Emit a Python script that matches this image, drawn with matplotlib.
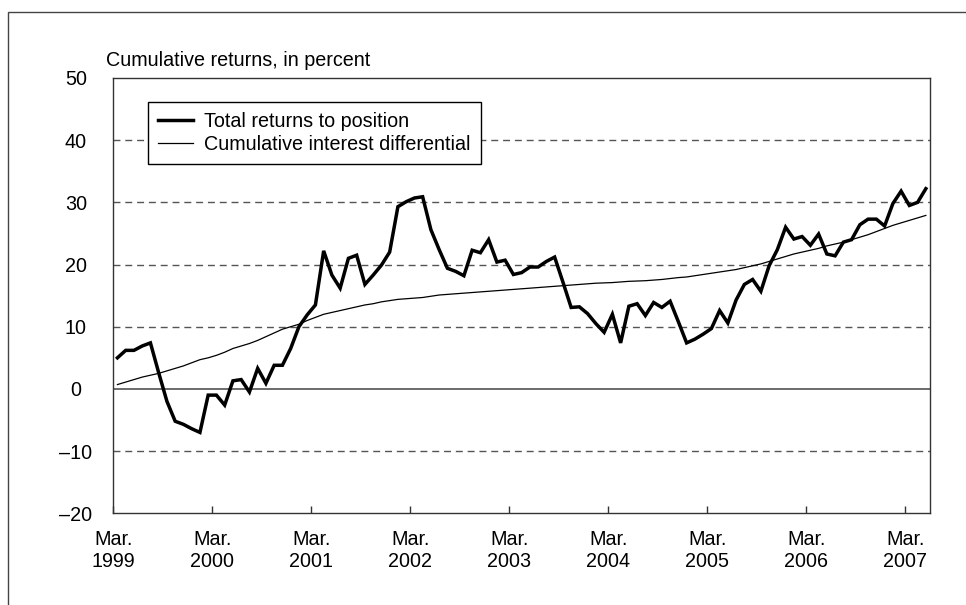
import matplotlib
matplotlib.use("Agg")
import matplotlib.pyplot as plt
from matplotlib.patches import Rectangle
import numpy as np

plt.rcParams["font.family"] = ["Liberation Sans", "DejaVu Sans"]

# monthly observations, Mar. 1999 .. May 2007
total_returns = [
    5.0, 6.2, 6.2, 6.9, 7.4, 2.6, -2.0, -5.2, -5.7, -6.4,
    -7.0, -1.0, -1.0, -2.6, 1.3, 1.5, -0.5, 3.3, 0.9, 3.8,
    3.8, 6.5, 10.0, 11.9, 13.5, 22.2, 18.3, 16.2, 21.0, 21.5,
    16.8, 18.3, 19.9, 22.0, 29.3, 30.1, 30.7, 30.9, 25.6, 22.4,
    19.4, 18.9, 18.2, 22.3, 21.9, 24.0, 20.4, 20.7, 18.4, 18.7,
    19.6, 19.6, 20.5, 21.2, 17.2, 13.1, 13.2, 12.1, 10.5, 9.1,
    12.0, 7.4, 13.3, 13.7, 11.8, 13.9, 13.1, 14.1, 10.8, 7.4,
    8.0, 8.8, 9.7, 12.6, 10.6, 14.3, 16.8, 17.6, 15.7, 19.8,
    22.4, 26.0, 24.1, 24.5, 23.1, 24.9, 21.7, 21.4, 23.6, 24.0,
    26.4, 27.3, 27.3, 26.2, 29.8, 31.8, 29.5, 30.0, 32.2,
]
interest_diff = [
    0.7, 1.1, 1.5, 1.9, 2.2, 2.5, 2.9, 3.3, 3.7, 4.2,
    4.7, 5.0, 5.4, 5.9, 6.5, 6.9, 7.3, 7.8, 8.4, 9.0,
    9.6, 10.0, 10.4, 11.0, 11.5, 12.0, 12.3, 12.6, 12.9, 13.2,
    13.5, 13.7, 14.0, 14.2, 14.4, 14.5, 14.6, 14.7, 14.9, 15.1,
    15.2, 15.3, 15.4, 15.5, 15.6, 15.7, 15.8, 15.9, 16.0, 16.1,
    16.2, 16.3, 16.4, 16.5, 16.6, 16.7, 16.8, 16.9, 17.0, 17.05,
    17.1, 17.2, 17.3, 17.35, 17.4, 17.5, 17.6, 17.75, 17.9, 18.0,
    18.2, 18.4, 18.6, 18.8, 19.0, 19.2, 19.5, 19.8, 20.1, 20.5,
    20.9, 21.3, 21.7, 22.0, 22.3, 22.6, 23.0, 23.3, 23.6, 24.0,
    24.4, 24.8, 25.3, 25.8, 26.3, 26.7, 27.1, 27.5, 27.9,
]
years = ["1999", "2000", "2001", "2002", "2003", "2004", "2005", "2006", "2007"]
y_ticks = [-20, -10, 0, 10, 20, 30, 40, 50]

FS = 14.2

n = len(total_returns)
x = np.arange(n) + 0.5

fig = plt.figure(figsize=(9.66, 6.05), dpi=100)
ax = fig.add_axes([0.1173, 0.1516, 0.8454, 0.7195])

# dashed gridlines, solid zero line
for v in y_ticks:
    if v == 0:
        ax.axhline(v, color="#444444", lw=1.1, zorder=1)
    elif v not in (-20, 50):
        ax.axhline(v, color="#555555", lw=1.0, ls=(0, (5, 3.5)), zorder=1)

ax.plot(x, total_returns, color="black", lw=2.5, solid_joinstyle="miter",
        label="Total returns to position", zorder=3)
ax.plot(x, interest_diff, color="black", lw=0.9,
        label="Cumulative interest differential", zorder=2)

ax.set_xlim(0, n)
ax.set_ylim(-20, 50)
ax.set_xticks([12 * k for k in range(len(years))])
ax.set_xticklabels(["Mar.\n" + y for y in years], fontsize=FS)
ax.set_yticks(y_ticks)
ax.set_yticklabels([str(v).replace("-", "\u2013") for v in y_ticks], fontsize=FS, ha="center")
ax.tick_params(axis="x", direction="in", length=5, width=1, color="#333333", pad=12)
ax.tick_params(axis="y", length=0, pad=27)
for s in ax.spines.values():
    s.set_color("#333333")
    s.set_linewidth(1.0)

leg = ax.legend(loc="upper left", bbox_to_anchor=(0.0425, 0.945), borderaxespad=0,
                fontsize=FS, frameon=True, fancybox=False, edgecolor="black",
                framealpha=1, handlelength=1.8, handletextpad=0.55,
                labelspacing=0.2, borderpad=0.5)
leg.get_frame().set_linewidth(1.0)
leg.set_zorder(5)

fig.text(106 / 966, 1 - 60 / 605, "Cumulative returns, in percent", fontsize=FS,
         ha="left", va="center")

# outer frame of the exhibit
fig.add_artist(Rectangle((8 / 966, -0.05), 1.5, 1.05 - 12 / 605, transform=fig.transFigure,
                         fill=False, edgecolor="#444444", lw=1.0, clip_on=False))

fig.savefig("out.png", dpi=100)
